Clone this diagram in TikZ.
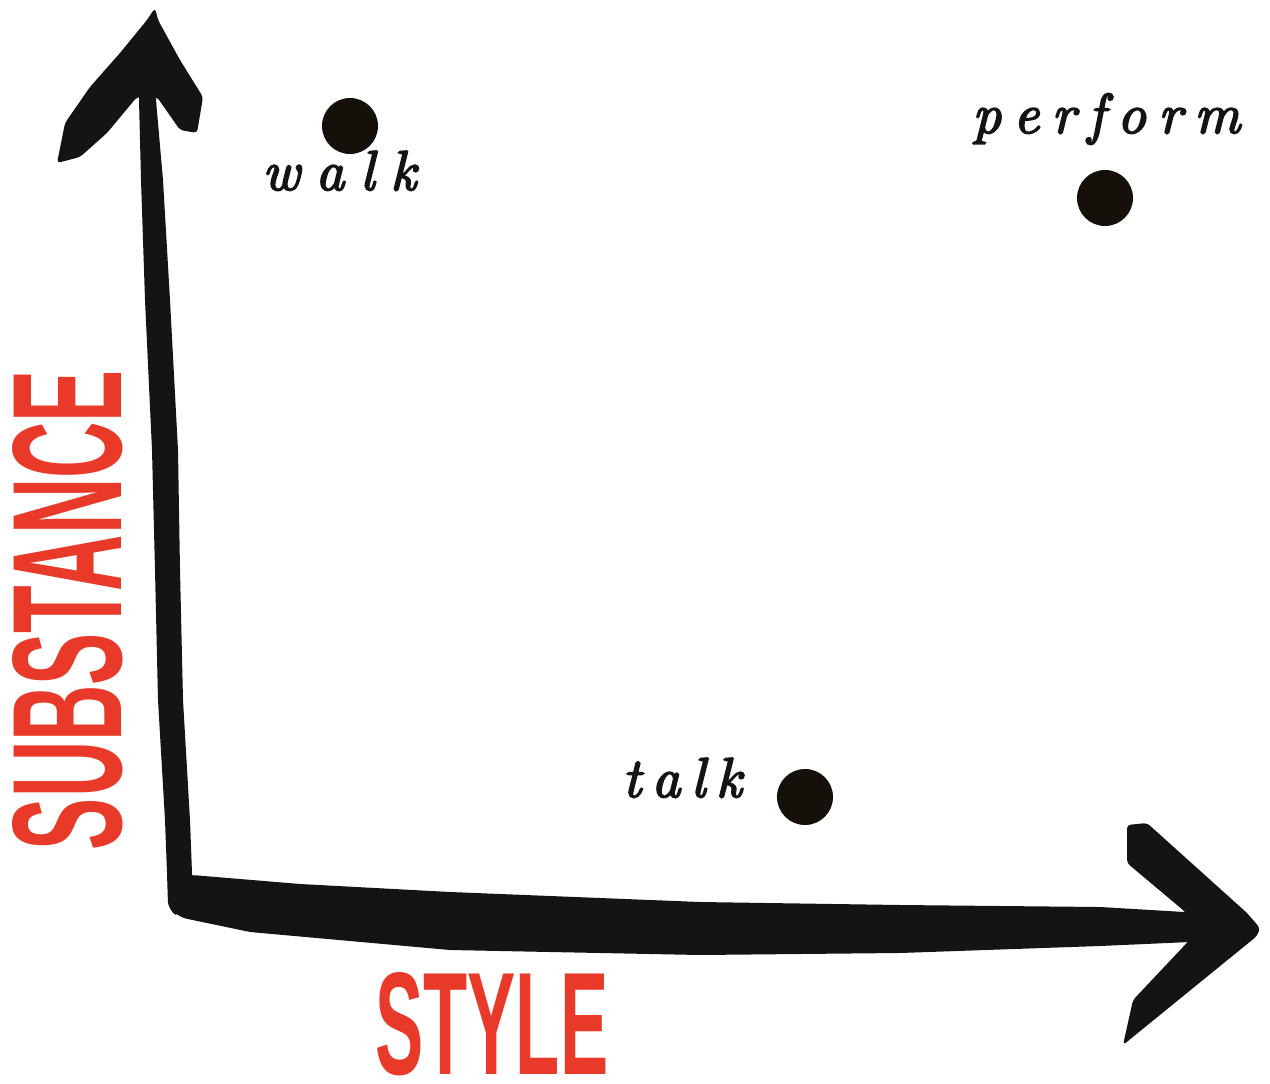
\documentclass[tikz,border=0pt]{standalone}
\usepackage{fontspec}
\setsansfont{Liberation Sans}
\newfontface\wordfont[FakeBold=3]{lmroman10-italic.otf}
\usepackage{graphicx}
\definecolor{ink}{RGB}{20,20,20}
\definecolor{dotink}{RGB}{22,16,10}
\definecolor{axred}{RGB}{233,57,40}
\begin{document}
\begin{tikzpicture}[x=0.02cm,y=-0.02cm,
  brush/.style={fill=ink,draw=none,rounded corners=2pt},
  pointdot/.style={circle,fill=dotink,draw=none,minimum size=56*0.02cm,inner sep=0pt},
  word/.style={inner sep=0pt,anchor=base west,text=ink,font=\wordfont\fontsize{32}{34}\selectfont},
  axislabel/.style={inner sep=0pt,text=axred,font=\sffamily\bfseries}]
\useasboundingbox[fill=white] (0,0) rectangle (1270,1084);

% vertical shaft
\fill[brush] (140,60) -- (139,100) -- (141,180) -- (145,300) -- (152,450) -- (155,570)
  -- (158,700) -- (165,820) -- (167,873) -- (168,905) -- (175,916)
  -- (192,905) -- (192,873) -- (190,820) -- (183,700) -- (180,570) -- (178,450)
  -- (170,300) -- (163,180) -- (156,100) -- (158,60) -- cycle;
% vertical head
\fill[brush] (155,8) -- (147,20) -- (120,53) -- (90,87) -- (65,123) -- (57,163)
  -- (80,157) -- (107,133) -- (137,97) -- (157,97) -- (180,130) -- (197,133)
  -- (203,97) -- (180,60) -- (158,20) -- cycle;

% horizontal shaft
\fill[brush] (170,878) -- (192,875) -- (300,884) -- (450,892) -- (700,902) -- (900,905)
  -- (1100,907) -- (1235,915) -- (1235,940) -- (1100,946) -- (900,953) -- (700,955)
  -- (450,950) -- (250,932) -- (183,918) -- (170,910) -- cycle;
% horizontal head
\fill[brush] (1127,825) -- (1147,823) -- (1247,913) -- (1260,928) -- (1257,936)
  -- (1123,1045) -- (1133,1000) -- (1183,947) -- (1200,928) -- (1183,910) -- (1127,863) -- cycle;

% points
\node[pointdot] (dwalk) at (350,126) {};
\node[pointdot] (dperform) at (1105,198) {};
\node[pointdot] (dtalk) at (805,797) {};

\node[word] (walk) at (262,190) {w\kern9pt a\kern9pt l\kern9pt k};
\node[word] (perform) at (972,133) {p\kern7pt e\kern7pt r\kern7pt f\kern7pt o\kern7pt r\kern7pt m};
\node[word] (talk) at (622,797) {t\kern6pt a\kern6pt l\kern6pt k};

% axis labels
\node[axislabel,rotate=90] (substance) at (67.5,610) {\resizebox{9.6cm}{2.18cm}{SUBSTANCE}};
\node[axislabel,anchor=north west] (style) at (375,972) {\resizebox{4.66cm}{2.04cm}{STYLE}};
\end{tikzpicture}
\end{document}
